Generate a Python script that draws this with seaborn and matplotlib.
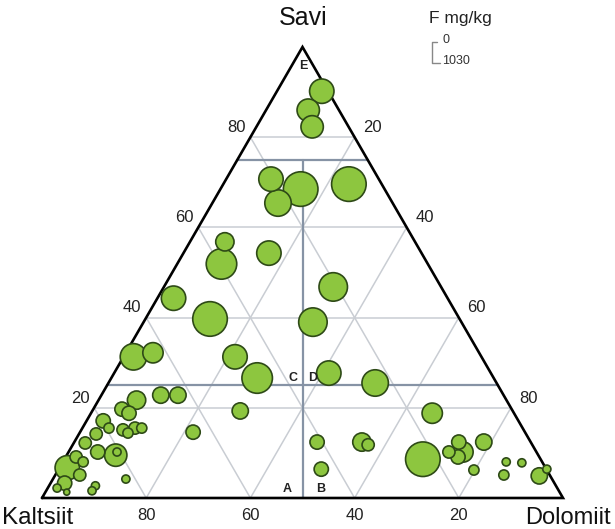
import numpy as np
import pandas as pd
import matplotlib
matplotlib.use("Agg")
import matplotlib.pyplot as plt
import seaborn as sns

# ---- data (ternary composition in %, F in mg/kg) ----
savi = [90.2, 86.0, 82.3, 70.7, 68.5, 65.4, 69.6,
        56.8, 51.9, 54.3, 46.8, 44.3, 39.7, 39.0, 31.3, 32.2, 31.3, 26.6, 27.7, 25.5,
        22.8, 22.8, 21.7, 19.7, 18.8, 17.1, 15.5, 15.1, 15.5, 15.5, 14.4, 14.2, 12.2,
        10.2, 9.5, 10.2, 9.1, 6.7, 8.0, 5.1, 3.3, 2.2, 1.3, 2.7, 1.6, 4.2, 14.6, 19.3,
        12.4, 6.4, 12.4, 11.8,
        18.8, 8.6, 10.2, 10.2, 12.4, 9.1, 12.4, 6.2, 8.0, 7.8, 5.1, 4.9, 6.4]
dolomiit = [8.6, 8.1, 10.7, 8.6, 15.4, 12.6, 24.1,
            6.7, 8.5, 16.4, 32.5, 3.1, 12.4, 32.5, 1.9, 5.2, 21.4, 28.0, 41.2, 51.2,
            11.4, 14.7, 7.3, 5.5, 7.3, 3.2, 5.1, 8.0, 10.1, 11.4, 9.3, 3.3, 2.2,
            5.6, 9.4, 9.3, 2.0, 1.5, 3.9, 4.7, 2.7, 1.8, 4.1, 8.9, 8.8, 14.0, 21.7, 28.4,
            46.6, 50.4, 55.2, 56.7,
            65.5, 68.8, 73.0, 75.7, 73.8, 75.3, 78.6, 79.8, 85.1, 88.2, 86.1, 93.0, 93.7]
fluor = [513, 431, 431, 513, 1030, 602, 1030,
         289, 802, 513, 699, 513, 1030, 699, 602, 356, 513, 802, 513, 602,
         228, 228, 289, 175, 175, 175, 89, 128, 128, 89, 89, 128, 128,
         175, 431, 57, 128, 513, 89, 128, 175, 57, 32, 57, 57, 57, 175, 228,
         175, 175, 289, 128,
         356, 1030, 128, 356, 175, 175, 228, 89, 57, 57, 89, 228, 57]
corner_labels = ["Savi", "Kaltsiit", "Dolomiit"]
tick_values = [20, 40, 60, 80]
zone_letters = ["A", "B", "C", "D", "E"]
legend_title = "F mg/kg"
legend_range = ["0", "1030"]

sns.set_theme(style="white")
plt.rcParams["font.family"] = ["Liberation Sans", "DejaVu Sans"]

W, Hpx = 615, 529
H = np.sqrt(3) / 2
fig = plt.figure(figsize=(W / 100, Hpx / 100), dpi=100)
fig.patch.set_facecolor("white")
ax = fig.add_axes([42 / W, 31 / Hpx, 521 / W, 451 / Hpx])
ax.set_xlim(0, 100)
ax.set_ylim(0, 100 * H)
ax.axis("off")

light = "#c9cdd3"
dark = "#8693a5"
for t in tick_values:
    ax.plot([t / 2, 100 - t / 2], [t * H, t * H], color=light, lw=1.1, zorder=1)
    ax.plot([t, t + (100 - t) / 2], [0, (100 - t) * H], color=light, lw=1.1, zorder=1)
    ax.plot([100 - t, (100 - t) / 2], [0, (100 - t) * H], color=light, lw=1.1, zorder=1)
for s in [25, 75]:
    ax.plot([s / 2, 100 - s / 2], [s * H, s * H], color=dark, lw=1.6, zorder=2)
ax.plot([50, 50], [0, 75 * H], color=dark, lw=1.6, zorder=2)

ax.plot([0, 100, 50, 0], [0, 0, 100 * H, 0], color="black", lw=1.9, zorder=3,
        solid_joinstyle="miter", clip_on=False)

df = pd.DataFrame({"savi": savi, "dolomiit": dolomiit, "F": fluor})
df["x"] = df["dolomiit"] + df["savi"] / 2
df["y"] = df["savi"] * H
df = df.sort_values("F", ascending=False, kind="stable")
sns.scatterplot(data=df, x="x", y="y", size="F", sizes=(0, 620), size_norm=(0, 1030),
                color="#8dc63f", edgecolor="#2e4a17", linewidth=1.2, legend=False,
                ax=ax, zorder=4, clip_on=False)
ax.set_xlim(0, 100)
ax.set_ylim(0, 100 * H)
ax.axis("off")

tk = dict(fontsize=12, color="#222222", ha="center", va="center")
for t in tick_values:
    ax.annotate(str(t), (t / 2, t * H), xytext=(-10, 7), textcoords="offset points", **tk)
    ax.annotate(str(100 - t), (100 - t / 2, t * H), xytext=(13, 7), textcoords="offset points", **tk)
    ax.annotate(str(100 - t), (t, 0), xytext=(0, -12.5), textcoords="offset points", **tk)


def ftext(x, y, s, **kw):
    fig.text(x / W, 1 - y / Hpx, s, ha="center", va="center", **kw)


ftext(303, 18, corner_labels[0], fontsize=18, color="#111111")
ftext(38, 518, corner_labels[1], fontsize=17.5, color="#111111")
ftext(568, 518, corner_labels[2], fontsize=17, color="#111111")

lk = dict(fontsize=9, fontweight="bold", color="#222222")
for (x, y), s in zip([(287, 489), (321, 489), (293, 378), (313, 378), (303, 66)], zone_letters):
    ftext(x, y, s, **lk)

ftext(460, 19, legend_title, fontsize=12.5, color="#222222")
ftext(446, 40, legend_range[0], fontsize=9, color="#333333")
ftext(456, 61, legend_range[1], fontsize=9, color="#333333")
bx = [437 / W, 432 / W, 432 / W, 440 / W]
by = [1 - 42 / Hpx, 1 - 42 / Hpx, 1 - 63 / Hpx, 1 - 63 / Hpx]
fig.add_artist(plt.Line2D(bx, by, color="#888888", lw=1.0))

fig.savefig("out.png", dpi=100, facecolor="white")
